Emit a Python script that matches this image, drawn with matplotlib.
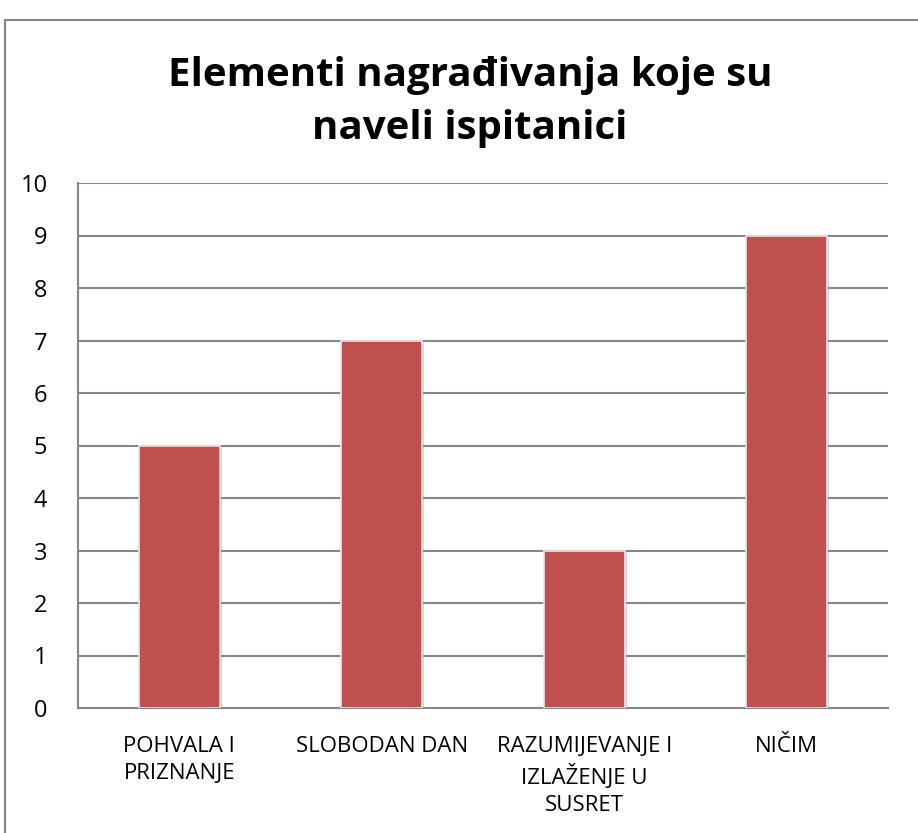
import matplotlib.pyplot as plt
import matplotlib.patheffects as pe
from matplotlib.patches import Rectangle

categories = ['POHVALA I\nPRIZNANJE', 'SLOBODAN DAN', 'RAZUMIJEVANJE I\nIZLAŽENJE U\nSUSRET', 'NIČIM']
values = [5, 7, 3, 9]
yticks = list(range(0, 11))

plt.rcParams['font.family'] = ['Open Sans', 'DejaVu Sans']

fig = plt.figure(figsize=(9.18, 8.33), dpi=100)
# outer chart border
fig.patches.append(Rectangle((5 / 918, -0.01), 1.0, 0.986, transform=fig.transFigure,
                             fill=False, edgecolor='#868686', linewidth=1.5))

ax = fig.add_axes([78 / 918, 1 - 708 / 833, 810 / 918, 525 / 833])
x = range(len(categories))
bars = ax.bar(x, values, width=0.4, color='#C0504D', zorder=3,
              edgecolor='#E8E8E8', linewidth=1.2)
for b in bars:
    b.set_path_effects([pe.SimplePatchShadow(offset=(1.5, -1.5), shadow_rgbFace='#999999', alpha=0.4),
                        pe.Normal()])

ax.set_xlim(-0.5, len(categories) - 0.5)
ax.set_ylim(0, 10)
ax.set_yticks(yticks)
ax.yaxis.grid(True, color='#868686', linewidth=1.5, zorder=0)
ax.set_axisbelow(True)
for s in ['top', 'right']:
    ax.spines[s].set_visible(False)
for s in ['left', 'bottom']:
    ax.spines[s].set_color('#868686')
    ax.spines[s].set_linewidth(1.5)

ax.set_xticks(list(x))
ax.set_xticklabels(categories, fontsize=16, linespacing=1.36, va='top')
ax.tick_params(axis='x', length=0, pad=20)
ax.tick_params(axis='y', length=0, pad=22, labelsize=17)

fig.text(0.512, 1 - 102 / 833, 'Elementi nagrađivanja koje su\nnaveli ispitanici',
         ha='center', va='center', fontsize=29, fontweight='bold', linespacing=1.45)

fig.savefig('out.png', dpi=100)
